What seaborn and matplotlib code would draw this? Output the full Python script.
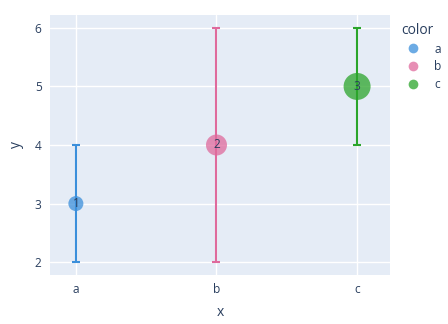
import matplotlib
matplotlib.use("Agg")
import matplotlib.pyplot as plt
import seaborn as sns
import pandas as pd
from matplotlib.lines import Line2D

categories = ["a", "b", "c"]
y_values = [3, 4, 5]
y_lower = [2, 2, 4]
y_upper = [4, 6, 6]
size_values = [1, 2, 3]
text_labels = ["1", "2", "3"]
palette = {"a": "#3b8fdb", "b": "#df6a9c", "c": "#2ba52b"}

df = pd.DataFrame({"x": categories, "y": y_values, "color": categories,
                   "size": size_values, "text": text_labels})

sns.set_theme(style="darkgrid")
plt.rcParams["font.family"] = ["Open Sans", "DejaVu Sans"]
txt = "#2a3f5f"

fig = plt.figure(figsize=(4.48, 3.24), dpi=100)
ax = fig.add_axes([50 / 448, 1 - 275 / 324, 340 / 448, 260 / 324])
ax.set_facecolor("#e5ecf6")

xpos = {c: i for i, c in enumerate(categories)}
for i, c in enumerate(categories):
    ax.errorbar([xpos[c]], [y_values[i]],
                yerr=[[y_values[i] - y_lower[i]], [y_upper[i] - y_values[i]]],
                fmt="none", ecolor=palette[c], elinewidth=1.5, capsize=2.9,
                capthick=1.5, zorder=2)

sns.scatterplot(data=df.assign(xn=[xpos[c] for c in categories]), x="xn", y="y",
                hue="color", palette=palette, size="size",
                sizes={1: 117, 2: 229, 3: 378}, alpha=0.75, linewidth=0,
                ax=ax, legend=False, zorder=3)

for i, c in enumerate(categories):
    ax.text(xpos[c], y_values[i], text_labels[i], ha="center", va="center",
            fontsize=8.6, color=txt, zorder=4)

ax.set_xlim(-0.184, 2.234)
ax.set_ylim(1.78, 6.22)
ax.set_xticks(range(len(categories)))
ax.set_xticklabels(categories)
ax.set_yticks([2, 3, 4, 5, 6])
ax.grid(True, color="white", linewidth=1)
ax.set_axisbelow(True)
for s in ax.spines.values():
    s.set_visible(False)
ax.tick_params(axis="both", length=0, labelsize=8.6, labelcolor=txt, pad=6)
ax.set_xlabel("x", fontsize=10, color=txt, labelpad=6)
ax.set_ylabel("y", fontsize=10, color=txt, labelpad=8)

handles = [Line2D([0], [0], marker="o", linestyle="", markersize=7,
                  markerfacecolor=palette[c], markeredgewidth=0, alpha=0.75)
           for c in categories]
leg = fig.legend(handles, categories, title="color", loc="upper left",
                 bbox_to_anchor=(390 / 448, 1 - 12 / 324), frameon=False,
                 fontsize=8.6, title_fontsize=10, handletextpad=0.8,
                 labelspacing=0.4, alignment="left", labelcolor=txt)
leg.get_title().set_color(txt)

fig.savefig("out.png", dpi=100)
